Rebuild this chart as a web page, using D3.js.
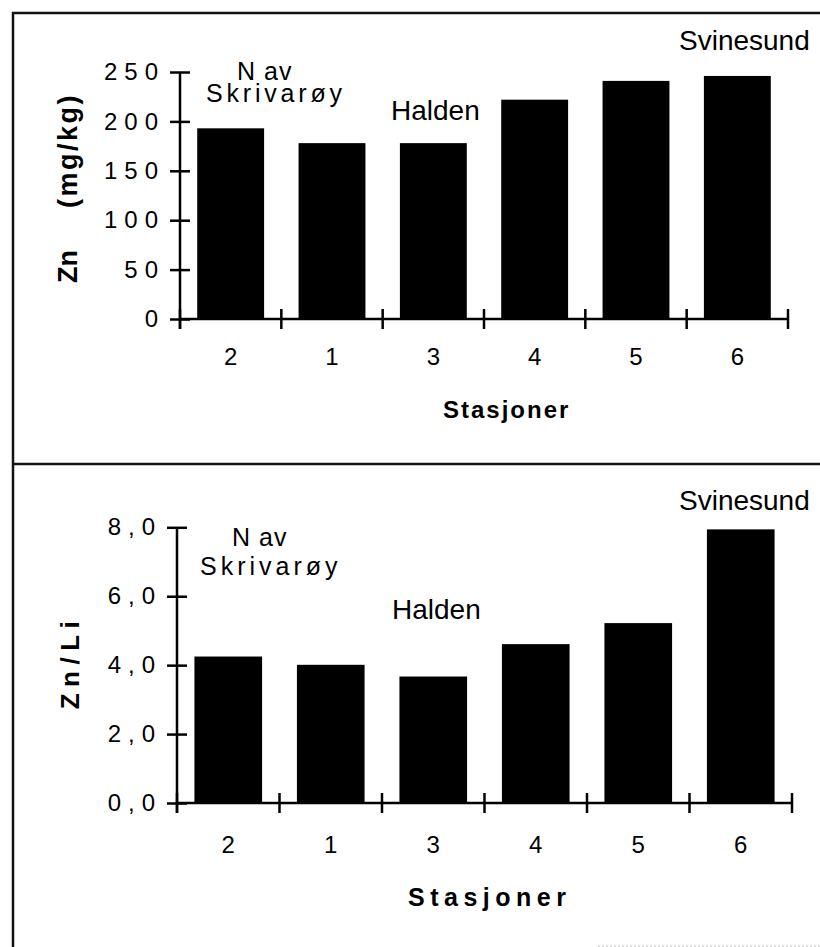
<!DOCTYPE html>
<html>
<head>
<meta charset="utf-8">
<script src="https://cdn.jsdelivr.net/npm/d3@7"></script>
<style>
  html, body { margin: 0; padding: 0; background: #fff; }
  svg { display: block; }
  text { font-family: "Liberation Sans", Arial, Helvetica, sans-serif; fill: #000; }
</style>
</head>
<body>
<script>
// ---- data ----
const categories = ["2", "1", "3", "4", "5", "6"];
const znValues = [193, 178, 178, 222, 241, 246];
const ratioValues = [4.25, 4.01, 3.67, 4.61, 5.22, 7.94];
const znTicks = [0, 50, 100, 150, 200, 250];
const ratioTicks = [0, 2, 4, 6, 8];
const xTitle = "Stasjoner";
const znTitle = ["Zn", "(mg/kg)"];
const ratioTitle = "Zn/Li";
const siteLabels = ["N av", "Skrivarøy", "Halden", "Svinesund"];

const W = 820, H = 947;
const svg = d3.select("body").append("svg").attr("width", W).attr("height", H);

// ---- frame ----
const frame = svg.append("g").attr("stroke", "#111").attr("stroke-width", 2.5);
frame.append("line").attr("x1", 12).attr("x2", W).attr("y1", 13).attr("y2", 13);
frame.append("line").attr("x1", 13).attr("x2", 13).attr("y1", 12).attr("y2", H);
frame.append("line").attr("x1", 12).attr("x2", W).attr("y1", 464).attr("y2", 464);
svg.append("line").attr("x1", 598).attr("x2", W).attr("y1", 946).attr("y2", 946)
  .attr("stroke", "#bbb").attr("stroke-width", 1).attr("stroke-dasharray", "2,2");

function panel(cfg) {
  const g = svg.append("g");
  const x = d3.scaleBand().domain(categories).range(cfg.xRange)
    .paddingInner(0.34).paddingOuter(0.17);
  const y = d3.scaleLinear().domain(cfg.yDomain).range(cfg.yRange);
  const y0 = y(0);

  // bars
  g.append("g").selectAll("rect").data(cfg.values).join("rect")
    .attr("x", (d, i) => x(categories[i]))
    .attr("y", d => y(d))
    .attr("width", x.bandwidth())
    .attr("height", d => y0 - y(d))
    .attr("fill", "#000");

  // y axis
  const ya = g.append("g").attr("transform", `translate(${cfg.xRange[0]},0)`)
    .call(d3.axisLeft(y).tickValues(cfg.ticks).tickSizeInner(10).tickSizeOuter(0)
      .tickFormat(cfg.fmt));
  ya.select(".domain").remove();
  ya.selectAll(".tick line").attr("x1", 10).attr("stroke", "#000").attr("stroke-width", 2.5);
  ya.selectAll(".tick text").attr("x", -cfg.yLabelGap + 7).attr("font-size", 24)
    .attr("letter-spacing", 7).attr("font-family", null);
  g.append("line").attr("x1", cfg.xRange[0]).attr("x2", cfg.xRange[0])
    .attr("y1", y(cfg.yDomain[1])).attr("y2", y0 + 10)
    .attr("stroke", "#000").attr("stroke-width", 2.5);

  // x axis
  const xa = g.append("g").attr("transform", `translate(0,${y0})`)
    .call(d3.axisBottom(x).tickSize(0).tickPadding(0));
  xa.select(".domain").remove();
  xa.selectAll(".tick text").attr("y", cfg.xLabelDy).attr("dy", 0)
    .attr("font-size", 24).attr("font-family", null);
  g.append("line").attr("x1", cfg.xRange[0]).attr("x2", cfg.xRange[1])
    .attr("y1", y0).attr("y2", y0).attr("stroke", "#000").attr("stroke-width", 2.5);
  const bounds = d3.range(categories.length + 1).map(i => x.range()[0] + i * x.step());
  g.append("g").selectAll("line").data(bounds).join("line")
    .attr("x1", d => d).attr("x2", d => d)
    .attr("y1", y0 - 10).attr("y2", y0 + 10)
    .attr("stroke", "#000").attr("stroke-width", 2.5);

  // x title
  g.append("text").attr("x", cfg.xTitle.x).attr("y", cfg.xTitle.y)
    .attr("font-size", cfg.xTitle.size).attr("font-weight", "bold")
    .attr("letter-spacing", cfg.xTitle.ls).text(xTitle);

  // annotations
  cfg.notes.forEach(n => {
    g.append("text").attr("x", n.x).attr("y", n.y).attr("font-size", n.size)
      .attr("letter-spacing", n.ls || 0).text(n.t);
  });
  return g;
}

// ---- top panel: Zn (mg/kg) ----
const topPanel = panel({
  values: znValues, ticks: znTicks, yDomain: [0, 250],
  xRange: [180, 788], yRange: [319, 72],
  fmt: d3.format("d"), yLabelGap: 22, xLabelDy: 46,
  xTitle: { x: 443, y: 418, size: 24, ls: 2 },
  notes: [
    { t: siteLabels[0], x: 237, y: 79.5, size: 25, ls: 1 },
    { t: siteLabels[1], x: 206, y: 101.5, size: 25, ls: 3.8 },
    { t: siteLabels[2], x: 391, y: 120, size: 28 },
    { t: siteLabels[3], x: 679, y: 50, size: 28 }
  ]
});
topPanel.append("text").attr("transform", "translate(77,283) rotate(-90)")
  .attr("font-size", 27).attr("font-weight", "bold").text(znTitle[0]);
topPanel.append("text").attr("transform", "translate(77,208) rotate(-90)")
  .attr("font-size", 27).attr("font-weight", "bold").attr("letter-spacing", 2.5).text(znTitle[1]);

// ---- bottom panel: Zn/Li ----
const bottomPanel = panel({
  values: ratioValues, ticks: ratioTicks, yDomain: [0, 8],
  xRange: [177, 792], yRange: [803, 527.3],
  fmt: d => d.toFixed(1).replace(".", ","), yLabelGap: 22, xLabelDy: 50,
  xTitle: { x: 408, y: 906, size: 25, ls: 5.5 },
  notes: [
    { t: siteLabels[0], x: 232, y: 546, size: 25, ls: 1 },
    { t: siteLabels[1], x: 200, y: 575, size: 25, ls: 4 },
    { t: siteLabels[2], x: 392, y: 619, size: 28 },
    { t: siteLabels[3], x: 679, y: 510, size: 28 }
  ]
});
bottomPanel.append("text").attr("transform", "translate(79,662) rotate(-90)")
  .attr("text-anchor", "middle").attr("font-size", 26).attr("font-weight", "bold")
  .attr("letter-spacing", 6.5).text(ratioTitle);
</script>
</body>
</html>
